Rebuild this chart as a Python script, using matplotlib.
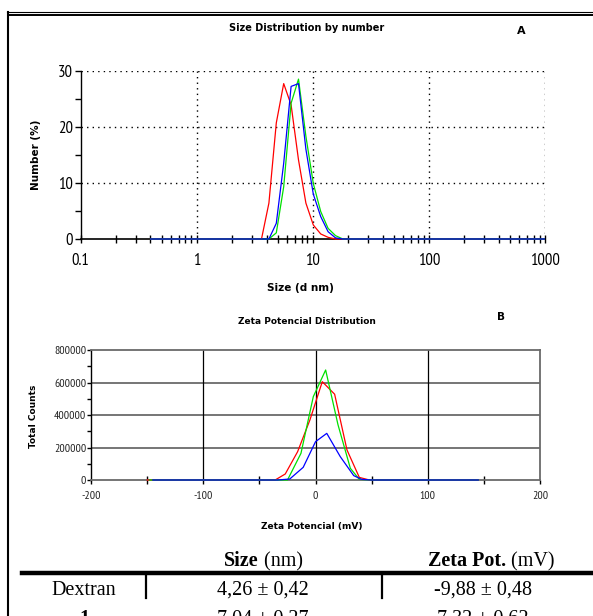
import numpy as np
import matplotlib.pyplot as plt
from matplotlib.lines import Line2D
from matplotlib.transforms import Bbox, TransformedBbox
from matplotlib.ticker import FixedLocator, NullFormatter

W, H = 593, 616
fx = lambda px: px / W
fy = lambda py: 1 - py / H

narrow = ['PT Sans Narrow', 'Archivo Narrow', 'Roboto Condensed', 'DejaVu Sans']
serif = ['Liberation Serif', 'DejaVu Serif']

# size distribution (A): Malvern bin sizes (d nm) and number %
size_bins = [0.4, 0.4632, 0.5365, 0.6213, 0.7195, 0.8332, 0.9649, 1.117, 1.294, 1.499,
             1.736, 2.01, 2.328, 2.696, 3.122, 3.615, 4.187, 4.849, 5.615, 6.503,
             7.531, 8.721, 10.1, 11.7, 13.54, 15.69, 18.17, 21.04, 24.36, 28.21,
             32.67, 37.84, 43.82, 50.75, 58.77, 68.06, 78.82, 91.28, 105.7, 122.4,
             141.8, 164.2, 190.1, 220.2, 255.0, 295.3, 342.0, 396.1, 458.7, 531.2,
             615.1, 712.4, 825.0, 955.4, 1106.0]
n_pre = 15   # bins below 3.615 are zero
n_post = 29  # bins above 15.69 are zero
red_num = [0] * n_pre + [0, 6.4, 20.7, 27.7, 23.9, 14.1, 6.4, 2.5, 0.9, 0.3, 0] + [0] * n_post
green_num = [0] * n_pre + [0, 0, 1.1, 9.3, 24.2, 28.5, 18.3, 9.9, 4.9, 1.9, 0.6] + [0] * n_post
blue_num = [0] * n_pre + [0, 0, 2.8, 13.5, 27.2, 27.7, 16.0, 8.0, 4.0, 1.3, 0.2] + [0] * n_post

# zeta potential distribution (B)
red_zx = [-150, -36, -27, -16, -5, 6, 17, 28, 39, 48, 145]
red_zc = [0, 0, 37000, 174000, 370000, 605000, 528000, 185000, 16000, 0, 0]
green_zx = [-148, -25, -13, -2, 9, 20, 31, 39, 50, 145]
green_zc = [0, 0, 164000, 513000, 677000, 340000, 72000, 4000, 0, 0]
blue_zx = [-145, -34, -23, -11, 0, 10, 22, 34, 41, 50, 145]
blue_zc = [0, 0, 6000, 78000, 236000, 287000, 144000, 27000, 4000, 0, 0]

# table
col_headers = [('Size', ' (nm)'), ('Zeta Pot.', ' (mV)')]
row_names = ['Dextran', '1']
size_vals = ['4,26 ± 0,42', '7,04 ± 0,27']
zeta_vals = ['-9,88 ± 0,48', '7,32 ± 0,62']

fig = plt.figure(figsize=(W / 100, H / 100), dpi=100)

# ---------------- panel A ----------------
axA = fig.add_axes([fx(80.6), fy(239), fx(545) - fx(80.6), (239 - 70.7) / H])
axA.set_xscale('log')
axA.set_xlim(0.1, 1000)
axA.set_ylim(0, 30)
for sp in ['top', 'right']:
    axA.spines[sp].set_visible(False)
axA.spines['left'].set_linewidth(1.0)
axA.spines['bottom'].set_linewidth(1.2)
for v in [1, 10, 100, 1000]:
    axA.axvline(v, color='black', ls=(0, (1, 3)), lw=1.0, zorder=1)
for v in [10, 20, 30]:
    axA.axhline(v, color='black', ls=(0, (1, 3)), lw=1.0, zorder=1)

clipA = TransformedBbox(Bbox([[0, -0.05], [1, 1.05]]), axA.transAxes)
for ys, c in [(red_num, '#ff0000'), (green_num, '#00e000'), (blue_num, '#0000ff')]:
    ln, = axA.plot(size_bins, ys, color=c, lw=0.9, zorder=3)
    ln.set_clip_box(clipA)

axA.xaxis.set_major_locator(FixedLocator([0.1, 1, 10, 100, 1000]))
axA.xaxis.set_major_formatter(plt.FixedFormatter(['0.1', '1', '10', '100', '1000']))
minors = [m * 10.0 ** e for e in range(-1, 3) for m in range(2, 10)]
axA.xaxis.set_minor_locator(FixedLocator(minors))
axA.xaxis.set_minor_formatter(NullFormatter())
axA.tick_params(axis='x', which='both', direction='inout', length=6, width=1.0)
axA.tick_params(axis='x', which='major', pad=7)
axA.set_yticks([0, 10, 20, 30])
axA.yaxis.set_minor_locator(FixedLocator([5, 15, 25]))
axA.tick_params(axis='y', which='both', direction='out', length=4, width=1.0, pad=1.5)
for lab in axA.get_xticklabels() + axA.get_yticklabels():
    lab.set_family(narrow)
    lab.set_fontsize(12)

fig.text(fx(307), fy(28), 'Size Distribution by number', ha='center', va='center',
         fontsize=7, weight='bold')
fig.text(fx(521), fy(31), 'A', ha='center', va='center', fontsize=8, weight='bold')
fig.text(fx(300), fy(288), 'Size (d nm)', ha='center', va='center', fontsize=7.5, weight='bold')
fig.text(fx(36), fy(155), 'Number (%)', ha='center', va='center', rotation=90,
         fontsize=7.5, weight='bold')

# ---------------- panel B ----------------
axB = fig.add_axes([fx(91.1), fy(480), fx(540) - fx(91.1), (480 - 350) / H])
axB.set_xlim(-200, 200)
axB.set_ylim(0, 800000)
gray = '#6a6a6a'
for sp in ['top', 'right', 'bottom']:
    axB.spines[sp].set_color(gray)
    axB.spines[sp].set_linewidth(1.3)
axB.spines['left'].set_color('black')
axB.spines['left'].set_linewidth(1.0)
for v in [200000, 400000, 600000]:
    axB.axhline(v, color=gray, lw=1.3, zorder=1)
for v in [-100, 0, 100]:
    axB.axvline(v, color='black', lw=0.9, zorder=1)

for xs, ys, c in [(red_zx, red_zc, '#ff0000'), (green_zx, green_zc, '#00e000'),
                  (blue_zx, blue_zc, '#0000ff')]:
    axB.plot(xs, ys, color=c, lw=0.9, zorder=3, clip_on=False)

axB.set_xticks([-200, -100, 0, 100, 200])
axB.set_xticklabels(['-200', '-100', '0', '100', '200'])
axB.xaxis.set_minor_locator(FixedLocator([-150, -50, 50, 150]))
axB.tick_params(axis='x', which='major', direction='out', length=3, width=1.0, pad=5)
axB.tick_params(axis='x', which='minor', direction='inout', length=6, width=1.0)
axB.set_yticks([0, 200000, 400000, 600000, 800000])
axB.set_yticklabels(['0', '200000', '400000', '600000', '800000'])
axB.yaxis.set_minor_locator(FixedLocator([100000, 300000, 500000, 700000]))
axB.tick_params(axis='y', which='both', direction='out', length=3, width=1.0, pad=0.5)
for lab in axB.get_xticklabels() + axB.get_yticklabels():
    lab.set_family(narrow)
    lab.set_fontsize(8.5)
    lab.set_color('#222222')

fig.text(fx(307), fy(321), 'Zeta Potencial Distribution', ha='center', va='center',
         fontsize=6.5, weight='bold')
fig.text(fx(501), fy(317), 'B', ha='center', va='center', fontsize=7.5, weight='bold')
fig.text(fx(312), fy(526), 'Zeta Potencial (mV)', ha='center', va='center',
         fontsize=6.5, weight='bold')
fig.text(fx(34), fy(416), 'Total Counts', ha='center', va='center', rotation=90,
         fontsize=6.5, weight='bold')

# ---------------- table ----------------
head_x = [259, 506]
for (bold_part, reg_part), x in zip(col_headers, head_x):
    fig.text(fx(x), fy(566), bold_part, ha='right', va='baseline',
             fontsize=14.5, weight='bold', family=serif)
    fig.text(fx(x), fy(566), reg_part, ha='left', va='baseline',
             fontsize=14.5, family=serif)

row_y = [595, 624]
for i, (name, sv, zv) in enumerate(zip(row_names, size_vals, zeta_vals)):
    fig.text(fx(84), fy(row_y[i]), name, ha='center', va='baseline', fontsize=14.5,
             family=serif, weight='bold' if name == '1' else 'normal')
    fig.text(fx(263), fy(row_y[i]), sv, ha='center', va='baseline', fontsize=14.5, family=serif)
    fig.text(fx(483), fy(row_y[i]), zv, ha='center', va='baseline', fontsize=14.5, family=serif)

fig.add_artist(Line2D([fx(22), fx(593)], [fy(573), fy(573)], color='black', lw=3.2))
for x in [146, 382]:
    fig.add_artist(Line2D([fx(x), fx(x)], [fy(573), fy(598)], color='black', lw=1.6))

# outer frame: thin + thick line on top, thick line on the left
fig.add_artist(Line2D([fx(7), fx(593)], [fy(12.3), fy(12.3)], color='black', lw=0.8))
fig.add_artist(Line2D([fx(8), fx(593)], [fy(14.8), fy(14.8)], color='black', lw=1.4))
fig.add_artist(Line2D([fx(7.8), fx(7.8)], [fy(12), fy(616)], color='black', lw=1.5))

fig.savefig('out.png', dpi=100)
plt.close()
